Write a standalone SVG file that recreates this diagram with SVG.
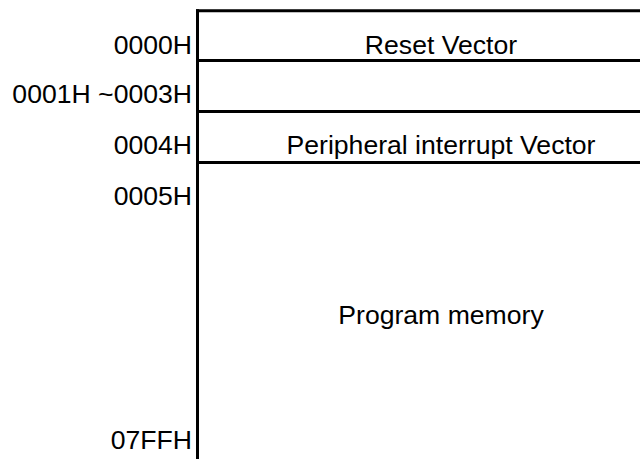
<svg xmlns="http://www.w3.org/2000/svg" width="640" height="459" viewBox="0 0 640 459">
<style>
.t{font-family:"Liberation Sans",Arial,sans-serif;font-size:26.6px;fill:#000}
.a{text-anchor:end}
.c{text-anchor:middle}
.l{stroke:#000;stroke-width:3;fill:none}
</style>
<rect width="640" height="459" fill="#fff"/>
<g id="connectors">
<line class="l" x1="197.5" y1="9.2" x2="197.5" y2="459"/>
<line class="l" x1="196" y1="10.7" x2="640" y2="10.7"/>
<line class="l" x1="196" y1="60.5" x2="640" y2="60.5"/>
<line class="l" x1="196" y1="111.5" x2="640" y2="111.5"/>
<line class="l" x1="196" y1="162.5" x2="640" y2="162.5"/>
</g>
<g id="reset">
<text class="t a" x="192" y="54.3">0000H</text>
<text class="t c" x="441" y="54.3">Reset Vector</text>
</g>
<g id="reserved">
<text class="t a" x="192" y="103.3">0001H ~0003H</text>
</g>
<g id="peripheral">
<text class="t a" x="192" y="154">0004H</text>
<text class="t c" x="441" y="154.3">Peripheral interrupt Vector</text>
</g>
<g id="program">
<text class="t a" x="192" y="205">0005H</text>
<text class="t c" x="441" y="324">Program memory</text>
<text class="t a" x="192" y="449.3">07FFH</text>
</g>
</svg>
